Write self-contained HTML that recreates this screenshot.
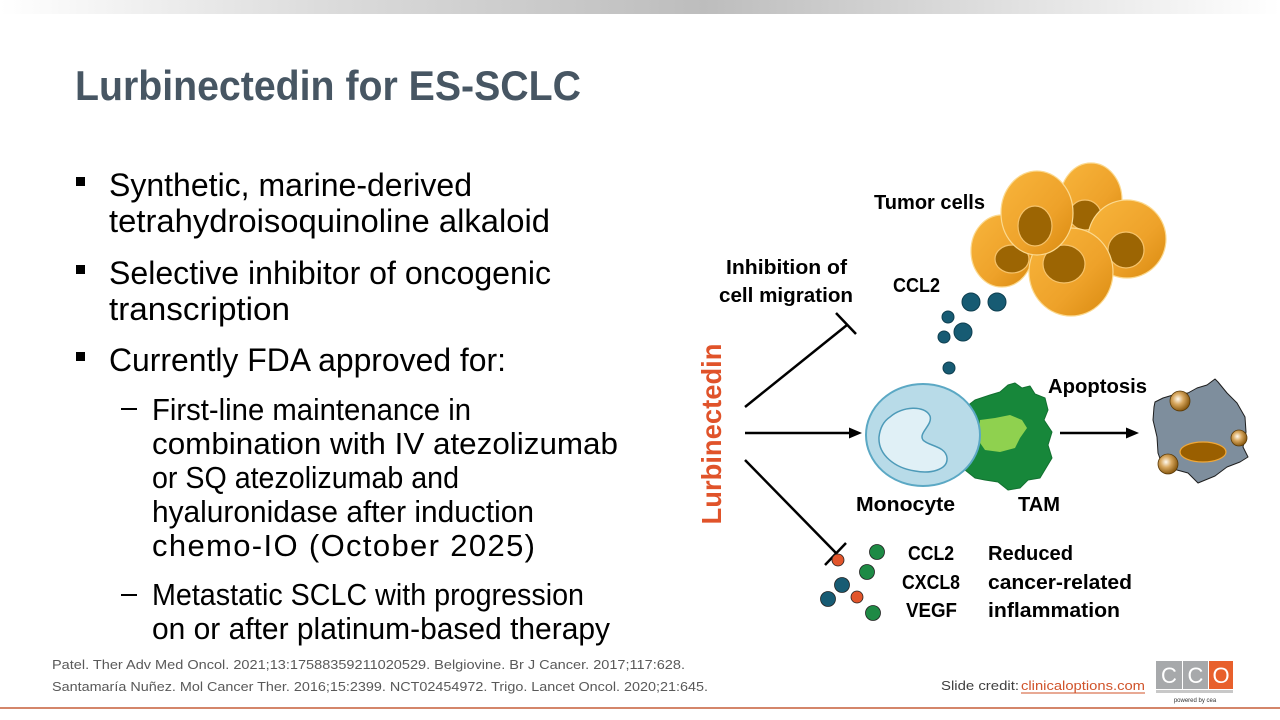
<!DOCTYPE html>
<html>
<head>
<meta charset="utf-8">
<style>
  html,body{margin:0;padding:0;background:#fff;}
  body{width:1280px;height:720px;overflow:hidden;}
  svg{display:block;}
  text{font-family:"Liberation Sans",Arial,sans-serif;}
</style>
</head>
<body>
<svg width="1280" height="720" viewBox="0 0 1280 720" xmlns="http://www.w3.org/2000/svg">
  <defs>
    <linearGradient id="topbar" x1="0" y1="0" x2="1" y2="0">
      <stop offset="0" stop-color="#ffffff"/>
      <stop offset="0.25" stop-color="#dcdcdc"/>
      <stop offset="0.55" stop-color="#bdbdbd"/>
      <stop offset="0.8" stop-color="#e2e2e2"/>
      <stop offset="1" stop-color="#ffffff"/>
    </linearGradient>
    <linearGradient id="cellg" x1="0" y1="0" x2="1" y2="1">
      <stop offset="0" stop-color="#f8b53c"/>
      <stop offset="0.6" stop-color="#eea22a"/>
      <stop offset="1" stop-color="#d98a10"/>
    </linearGradient>
    <radialGradient id="ball" cx="0.4" cy="0.4" r="0.6">
      <stop offset="0" stop-color="#fffaf0"/>
      <stop offset="0.45" stop-color="#d8a860"/>
      <stop offset="1" stop-color="#8a5a10"/>
    </radialGradient>
  </defs>

  <!-- top gradient bar -->
  <rect x="0" y="0" width="1280" height="14" fill="url(#topbar)"/>

  <!-- Title -->
  <text x="75" y="100" font-size="42" font-weight="bold" fill="#475663" textLength="506" lengthAdjust="spacingAndGlyphs">Lurbinectedin for ES-SCLC</text>

  <!-- Bullets -->
  <g fill="#000">
    <rect x="76" y="177" width="9" height="9"/>
    <rect x="76" y="265" width="9" height="9"/>
    <rect x="76" y="352" width="9" height="9"/>
    <rect x="121" y="408" width="16" height="2"/>
    <rect x="121" y="594" width="16" height="2"/>
  </g>
  <g font-size="32" fill="#000">
    <text x="109" y="196" textLength="363" lengthAdjust="spacingAndGlyphs">Synthetic, marine-derived</text>
    <text x="109" y="232" textLength="441" lengthAdjust="spacingAndGlyphs">tetrahydroisoquinoline alkaloid</text>
    <text x="109" y="284" textLength="442" lengthAdjust="spacingAndGlyphs">Selective inhibitor of oncogenic</text>
    <text x="109" y="320" textLength="181" lengthAdjust="spacingAndGlyphs">transcription</text>
    <text x="109" y="371" textLength="397" lengthAdjust="spacingAndGlyphs">Currently FDA approved for:</text>
  </g>
  <g font-size="31" fill="#000">
    <text x="152" y="420" textLength="319" lengthAdjust="spacingAndGlyphs">First-line maintenance in</text>
    <text x="152" y="454" textLength="466" lengthAdjust="spacingAndGlyphs">combination with IV atezolizumab</text>
    <text x="152" y="488" textLength="307" lengthAdjust="spacingAndGlyphs">or SQ atezolizumab and</text>
    <text x="152" y="522" textLength="382" lengthAdjust="spacingAndGlyphs">hyaluronidase after induction</text>
    <text x="152" y="556" textLength="383" lengthAdjust="spacing">chemo-IO (October 2025)</text>
    <text x="152" y="605" textLength="432" lengthAdjust="spacingAndGlyphs">Metastatic SCLC with progression</text>
    <text x="152" y="639" textLength="458" lengthAdjust="spacingAndGlyphs">on or after platinum-based therapy</text>
  </g>

  <!-- Tumor cells -->
  <g stroke="#fbd98f" stroke-width="1.2">
    <ellipse cx="1091" cy="200" rx="31" ry="37" fill="url(#cellg)"/>
    <ellipse cx="1085" cy="215" rx="16" ry="15" fill="#9c6503" stroke="#f6c36b"/>
    <ellipse cx="1127" cy="239" rx="39" ry="39" fill="url(#cellg)"/>
    <ellipse cx="1126" cy="250" rx="18" ry="18" fill="#9c6503" stroke="#f6c36b"/>
    <ellipse cx="1002" cy="251" rx="31" ry="36" fill="url(#cellg)"/>
    <ellipse cx="1012" cy="259" rx="17" ry="14" fill="#9c6503" stroke="#f6c36b"/>
    <ellipse cx="1071" cy="272" rx="42" ry="44" fill="url(#cellg)"/>
    <ellipse cx="1064" cy="264" rx="21" ry="19" fill="#9c6503" stroke="#f6c36b"/>
    <ellipse cx="1037" cy="213" rx="36" ry="42" fill="url(#cellg)"/>
    <ellipse cx="1035" cy="226" rx="17" ry="20" fill="#9c6503" stroke="#f6c36b"/>
  </g>

  <!-- Top CCL2 dots -->
  <g fill="#175b73" stroke="#0f3f50" stroke-width="1">
    <circle cx="971" cy="302" r="9"/>
    <circle cx="997" cy="302" r="9"/>
    <circle cx="948" cy="317" r="6"/>
    <circle cx="963" cy="332" r="9"/>
    <circle cx="944" cy="337" r="6"/>
    <circle cx="949" cy="368" r="6"/>
  </g>

  <!-- Diagram labels -->
  <g font-size="20" font-weight="bold" fill="#000">
    <text x="874" y="209" textLength="111" lengthAdjust="spacingAndGlyphs">Tumor cells</text>
    <text x="893" y="292" textLength="47" lengthAdjust="spacingAndGlyphs">CCL2</text>
    <text x="726" y="274" textLength="121" lengthAdjust="spacingAndGlyphs">Inhibition of</text>
    <text x="719" y="302" textLength="134" lengthAdjust="spacingAndGlyphs">cell migration</text>
    <text x="1048" y="393" textLength="99" lengthAdjust="spacingAndGlyphs">Apoptosis</text>
    <text x="856" y="511" textLength="99" lengthAdjust="spacingAndGlyphs">Monocyte</text>
    <text x="1018" y="511" textLength="42" lengthAdjust="spacingAndGlyphs">TAM</text>
    <text x="908" y="560" textLength="46" lengthAdjust="spacingAndGlyphs">CCL2</text>
    <text x="902" y="589" textLength="58" lengthAdjust="spacingAndGlyphs">CXCL8</text>
    <text x="906" y="617" textLength="51" lengthAdjust="spacingAndGlyphs">VEGF</text>
    <text x="988" y="560" textLength="85" lengthAdjust="spacingAndGlyphs">Reduced</text>
    <text x="988" y="589" textLength="144" lengthAdjust="spacingAndGlyphs">cancer-related</text>
    <text x="988" y="617" textLength="132" lengthAdjust="spacingAndGlyphs">inflammation</text>
  </g>

  <!-- Lurbinectedin vertical -->
  <text transform="translate(721,434) rotate(-90)" text-anchor="middle" font-size="28" font-weight="bold" fill="#e0532a" textLength="181" lengthAdjust="spacingAndGlyphs">Lurbinectedin</text>

  <!-- Connectors -->
  <g stroke="#000" stroke-width="2.5" fill="none" stroke-linecap="butt">
    <line x1="745" y1="407" x2="847" y2="325"/>
    <line x1="836" y1="313" x2="856" y2="334"/>
    <line x1="745" y1="433" x2="851" y2="433"/>
    <line x1="745" y1="460" x2="836" y2="553"/>
    <line x1="825" y1="565" x2="846" y2="543"/>
    <line x1="1060" y1="433" x2="1128" y2="433"/>
  </g>
  <polygon points="862,433 849,427.5 849,438.5" fill="#000"/>
  <polygon points="1139,433 1126,427.5 1126,438.5" fill="#000"/>

  <!-- TAM -->
  <path d="M975,400 L990,395 L1000,392 L1008,385 L1015,383 L1022,388 L1030,386 L1035,394 L1045,398 L1048,410 L1044,420 L1052,432 L1048,445 L1052,458 L1046,468 L1040,478 L1028,480 L1020,488 L1008,490 L998,482 L985,480 L975,478 L965,470 L960,440 L962,410 Z" fill="#17873a" stroke="#127030" stroke-width="1" stroke-linejoin="round"/>
  <path d="M980,420 L995,418 L1010,415 L1022,420 L1027,428 L1020,438 L1015,448 L1000,452 L985,450 L978,440 Z" fill="#8fd14f" stroke-linejoin="round"/>

  <!-- Monocyte -->
  <ellipse cx="923" cy="435" rx="57" ry="51" fill="#b8dbe8" stroke="#5ba8c4" stroke-width="2"/>
  <path d="M890,417 C902,406 925,405 930,416 C933,425 918,433 923,440 C928,446 946,446 947,458 C948,470 930,474 915,471 C895,468 878,455 879,437 C880,428 884,421 890,417 Z" fill="#e0f0f6" stroke="#4d9ab8" stroke-width="1.5"/>

  <!-- Apoptotic cell -->
  <path d="M1155,402 L1163,398 L1173,395 L1188,393 L1197,388 L1207,385 L1215,379 L1218,382 L1227,393 L1237,403 L1245,417 L1246,432 L1243,447 L1248,457 L1240,462 L1227,467 L1215,476 L1198,483 L1188,473 L1177,470 L1163,467 L1158,453 L1157,437 L1153,420 L1154,407 Z" fill="#7e8e9d" stroke="#1e1e1e" stroke-width="1" stroke-linejoin="round"/>
  <ellipse cx="1203" cy="452" rx="23" ry="10" fill="#9a5f00" stroke="#f0a838" stroke-width="1.2"/>
  <g stroke="#5a3a08" stroke-width="0.8">
    <circle cx="1180" cy="401" r="10" fill="url(#ball)"/>
    <circle cx="1239" cy="438" r="8" fill="url(#ball)"/>
    <circle cx="1168" cy="464" r="10" fill="url(#ball)"/>
  </g>

  <!-- Bottom dots -->
  <g stroke="#222" stroke-width="0.8">
    <circle cx="877" cy="552" r="7.5" fill="#1e8a45"/>
    <circle cx="867" cy="572" r="7.5" fill="#1e8a45"/>
    <circle cx="873" cy="613" r="7.5" fill="#1e8a45"/>
    <circle cx="842" cy="585" r="7.5" fill="#175b73"/>
    <circle cx="828" cy="599" r="7.5" fill="#175b73"/>
    <circle cx="838" cy="560" r="6" fill="#e2552b"/>
    <circle cx="857" cy="597" r="6" fill="#e2552b"/>
  </g>

  <!-- Footer refs -->
  <g font-size="13" fill="#595959">
    <text x="52" y="669" textLength="633" lengthAdjust="spacingAndGlyphs">Patel. Ther Adv Med Oncol. 2021;13:17588359211020529. Belgiovine. Br J Cancer. 2017;117:628.</text>
    <text x="52" y="691" textLength="656" lengthAdjust="spacingAndGlyphs">Santamaría Nuñez. Mol Cancer Ther. 2016;15:2399. NCT02454972. Trigo. Lancet Oncol. 2020;21:645.</text>
  </g>
  <text x="941" y="690" font-size="13" fill="#404040" textLength="78" lengthAdjust="spacingAndGlyphs">Slide credit:</text>
  <text x="1021" y="690" font-size="13" fill="#d0532a" textLength="124" lengthAdjust="spacingAndGlyphs">clinicaloptions.com</text>
  <line x1="1021" y1="693" x2="1145" y2="693" stroke="#d0532a" stroke-width="1"/>

  <!-- CCO logo -->
  <rect x="1156" y="661" width="26" height="28" fill="#a7a9ab"/>
  <rect x="1183" y="661" width="25" height="28" fill="#a7a9ab"/>
  <rect x="1209" y="661" width="24" height="28" fill="#e8602c"/>
  <g font-size="22" fill="#fff" text-anchor="middle">
    <text x="1169" y="683">C</text>
    <text x="1195.5" y="683">C</text>
    <text x="1221" y="683">O</text>
  </g>
  <rect x="1156" y="690" width="77" height="3" fill="#c8c8c8"/>
  <text x="1195" y="702" font-size="6" fill="#333" text-anchor="middle">powered by cea</text>

  <!-- bottom line -->
  <rect x="0" y="707" width="1280" height="2" fill="#d4866a"/>
</svg>
</body>
</html>
